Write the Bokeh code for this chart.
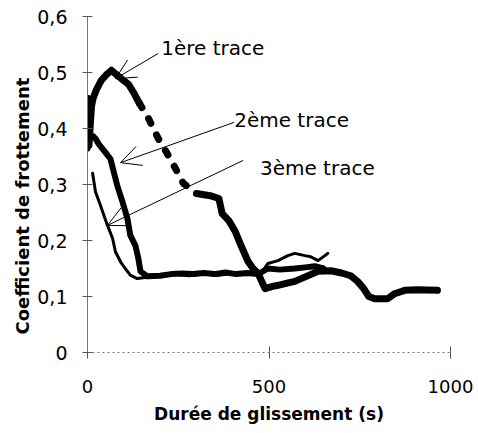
from bokeh.plotting import figure
from bokeh.models import Range1d, FixedTicker, Arrow, OpenHead, Label, Title
from bokeh.embed import file_html
from bokeh.resources import INLINE

# ---- data ----
t1 = [0, 2, 4, 7, 11, 16, 25, 38, 52, 66, 80, 93, 113, 129, 143, 168, 195, 228, 264, 300,
      338, 362, 371, 390, 407, 423, 442, 456, 470, 489, 510, 525, 550, 571, 600, 635, 670,
      700, 725, 744, 760, 775, 791, 827, 846, 874, 910, 964]
y1 = [0.454, 0.40, 0.37, 0.40, 0.44, 0.455, 0.47, 0.486, 0.496, 0.504, 0.496, 0.489, 0.479,
      0.462, 0.445, 0.418, 0.382, 0.346, 0.302, 0.284, 0.280, 0.275, 0.248, 0.235, 0.216,
      0.191, 0.163, 0.150, 0.141, 0.114, 0.118, 0.120, 0.124, 0.127, 0.135, 0.145, 0.146,
      0.142, 0.137, 0.127, 0.115, 0.100, 0.096, 0.096, 0.105, 0.111, 0.112, 0.111]

t2 = [0, 8, 16, 22, 30, 41, 52, 63, 82, 96, 110, 118, 132, 140, 146, 165, 200, 230, 260,
      290, 320, 350, 380, 410, 440, 470, 497, 530, 571, 600, 626, 650]
y2 = [0.364, 0.388, 0.386, 0.382, 0.373, 0.364, 0.355, 0.346, 0.298, 0.270, 0.239, 0.209,
      0.191, 0.168, 0.145, 0.136, 0.137, 0.140, 0.141, 0.140, 0.142, 0.140, 0.143, 0.140,
      0.142, 0.140, 0.150, 0.148, 0.150, 0.152, 0.154, 0.150]

t3 = [14, 22, 36, 55, 69, 77, 91, 104, 118, 137, 170, 200, 240, 280, 320, 360, 400, 440,
      478, 497, 525, 552, 571, 599, 615, 635, 654, 662]
y3 = [0.320, 0.287, 0.262, 0.227, 0.204, 0.180, 0.162, 0.150, 0.138, 0.132, 0.135, 0.138,
      0.140, 0.137, 0.140, 0.138, 0.141, 0.139, 0.141, 0.159, 0.164, 0.173, 0.177, 0.173,
      0.171, 0.164, 0.173, 0.177]

# dashed stretch of the first trace (photocopy gaps), as time bounds
dash_start, dash_end = 143, 300

x_ticks = [0, 500, 1000]
x_tick_labels = ["0", "500", "1000"]
y_ticks = [0, 0.1, 0.2, 0.3, 0.4, 0.5, 0.6]
y_tick_labels = ["0", "0,1", "0,2", "0,3", "0,4", "0,5", "0,6"]

x_title = "Durée de glissement (s)"
y_title = "Coefficient de frottement"

labels = ["1ère trace", "2ème trace", "3ème trace"]
label_x = [203, 404, 475]
label_y = [0.543, 0.416, 0.330]
arrow_tail_x = [195, 404, 429]
arrow_tail_y = [0.534, 0.411, 0.343]
arrow_tip_x = [77, 91, 55]
arrow_tip_y = [0.489, 0.339, 0.227]

FONT = "DejaVu Sans"

p = figure(width=476, height=426, x_range=Range1d(0, 1000), y_range=Range1d(0, 0.6),
           output_backend="svg", toolbar_location=None,
           min_border_left=87, min_border_right=26, min_border_top=16, min_border_bottom=74)
p.xgrid.visible = False
p.ygrid.visible = False
p.outline_line_color = None
p.background_fill_color = "white"
p.border_fill_color = "white"

p.xaxis.ticker = FixedTicker(ticks=x_ticks)
p.xaxis.major_label_overrides = dict(zip(x_ticks, x_tick_labels))
p.yaxis.ticker = FixedTicker(ticks=y_ticks)
p.yaxis.major_label_overrides = dict(zip(y_ticks, y_tick_labels))

for ax in (p.xaxis[0], p.yaxis[0]):
    ax.major_label_text_font = FONT
    ax.major_label_text_font_size = "18px"
    ax.major_label_text_color = "black"
    ax.axis_label_text_font = FONT
    ax.axis_label_text_font_style = "bold"
    ax.axis_label_text_color = "black"
    ax.minor_tick_line_color = None
    ax.axis_line_color = "#777777"
    ax.major_tick_line_color = "#555555"

p.yaxis.major_label_text_font_size = "19px"
p.yaxis.major_tick_in = 5
p.yaxis.major_tick_out = 5
p.yaxis.major_label_standoff = 15

p.xaxis.major_tick_in = 6
p.xaxis.major_tick_out = 6
p.xaxis.major_label_standoff = 21
p.xaxis.axis_line_dash = "2 3"
p.xaxis.axis_label = x_title
p.xaxis.axis_label_text_font_size = "17px"
p.xaxis.axis_label_standoff = 8

p.add_layout(Title(text=y_title, align="left", offset=18, standoff=4,
                   text_font=FONT, text_font_style="bold", text_font_size="18px",
                   text_color="black"), "left")

# traces
i1 = t1.index(dash_start)
i2 = t1.index(dash_end)
p.line(t1[:i1 + 1], y1[:i1 + 1], line_width=7, color="black", line_join="round", line_cap="round")
p.line(t1[i1:i2 + 1], y1[i1:i2 + 1], line_width=7, color="black", line_dash="5 13",
       line_cap="round", line_join="round")
p.line(t1[i2:], y1[i2:], line_width=7, color="black", line_join="round", line_cap="round")
p.line(t2, y2, line_width=6, color="black", line_join="round", line_cap="round")
p.line(t3, y3, line_width=3, color="black", line_join="round", line_cap="round")

# annotations
for txt, lx, ly in zip(labels, label_x, label_y):
    p.add_layout(Label(x=lx, y=ly, text=txt, text_font=FONT, text_font_size="20px",
                       text_baseline="middle", text_align="left", text_color="black"))
for xs, ys, xe, ye in zip(arrow_tail_x, arrow_tail_y, arrow_tip_x, arrow_tip_y):
    p.add_layout(Arrow(x_start=xs, y_start=ys, x_end=xe, y_end=ye, line_width=1,
                       line_color="black",
                       end=OpenHead(size=20, line_width=1, line_color="black")))

open("out.html", "w").write(file_html(p, INLINE))
